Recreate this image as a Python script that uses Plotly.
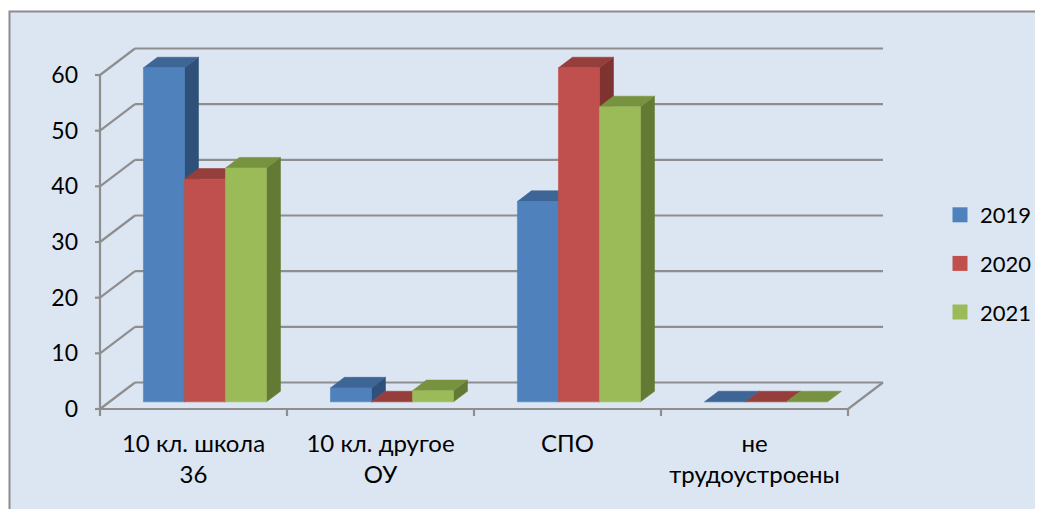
import plotly.graph_objects as go

# ---------------- data ----------------
categories = ["10 кл. школа<br>36", "10 кл. другое<br>ОУ", "СПО", "не<br>трудоустроены"]
series_names = ["2019", "2020", "2021"]
values_2019 = [60, 2.5, 36, 0]
values_2020 = [40, 0, 60, 0]
values_2021 = [42, 2, 53, 0]
y_ticks = [0, 10, 20, 30, 40, 50, 60]

# ---------------- style ----------------
front_colors = ["#4f81bd", "#c0504d", "#9bbb59"]
top_colors = ["#3d6596", "#953e3c", "#779340"]
side_colors = ["#2f5079", "#7e3331", "#627a33"]
grid_color = "#8e8e8e"
bg_color = "#dce6f2"
FONT = "Lato"

# projection constants (px per unit along the front plane)
PXC = 187.0            # px per category
PXV = 334.0 / 60.0     # px per value unit
DX = 35.0 / PXC        # full depth offset, x
DY = 26.5 / PXV        # full depth offset, y
F0, F1 = 0.27, 0.67    # bar front / back depth fractions
BAR_W = 41.0 / PXC
SHIFT = 2.0 / PXC

# page offset of the figure inside the html body (default body margin)
OFF = 8
W, H = 1043 - OFF, 509 - OFF
# plot area in page px, converted to figure px
L, R, T, B = 93 - OFF, 895 - OFF, 40 - OFF, 419 - OFF
ZERO_PX = 409 - OFF
AXIS_PX = 100 - OFF

xr = [(L - AXIS_PX) / PXC, (R - AXIS_PX) / PXC]
yr = [(ZERO_PX - B) / PXV, (ZERO_PX - T) / PXV]

series_values = [values_2019, values_2020, values_2021]
ncat = len(categories)
vmax = y_ticks[-1]

fig = go.Figure()


def line(xs, ys, width=2.2):
    fig.add_trace(go.Scatter(x=xs, y=ys, mode="lines", showlegend=False, hoverinfo="skip",
                             line=dict(color=grid_color, width=width)))


def poly(xs, ys, color):
    fig.add_trace(go.Scatter(x=xs + [xs[0]], y=ys + [ys[0]], mode="lines", fill="toself",
                             fillcolor=color, line=dict(color=color, width=0.6),
                             showlegend=False, hoverinfo="skip"))


# back wall gridlines and left-wall diagonals
for v in y_ticks:
    line([DX, ncat + DX], [v + DY, v + DY])
    line([0, DX], [v, v + DY])
# floor
line([0, ncat], [0, 0])
line([ncat, ncat + DX], [0, DY])
# front value axis
line([0, 0], [0, vmax])
# value ticks
for v in y_ticks:
    line([-5.0 / PXC, 0], [v, v])
# category ticks
for c in range(ncat + 1):
    line([c, c], [0, -7.0 / PXV])

# bars
ox0, oy0 = F0 * DX, F0 * DY
ox1, oy1 = F1 * DX, F1 * DY
for c in range(ncat):
    for s, vals in enumerate(series_values):
        v = vals[c]
        left = c + 0.5 - 1.5 * BAR_W + s * BAR_W + SHIFT
        right = left + BAR_W
        if v > 0:
            poly([right + ox0, right + ox1, right + ox1, right + ox0],
                 [oy0, oy1, v + oy1, v + oy0], side_colors[s])
        poly([left + ox0, right + ox0, right + ox1, left + ox1],
             [v + oy0, v + oy0, v + oy1, v + oy1], top_colors[s])
        if v > 0:
            poly([left + ox0, right + ox0, right + ox0, left + ox0],
                 [oy0, oy0, v + oy0, v + oy0], front_colors[s])

# legend entries
for s, name in enumerate(series_names):
    fig.add_trace(go.Scatter(x=[None], y=[None], mode="markers", name=name,
                             legendgroup=name,
                             marker=dict(symbol="square", size=15, color=front_colors[s])))


def px_to_paper_x(px):
    return (px - L) / (R - L)


def px_to_paper_y(py):
    return (B - py) / (B - T)


fig.add_shape(type="rect", xref="paper", yref="paper", layer="below",
              x0=px_to_paper_x(9.5 - OFF), x1=px_to_paper_x(W + 5),
              y0=px_to_paper_y(H + 5), y1=px_to_paper_y(11.5 - OFF),
              fillcolor=bg_color, line=dict(color="#8c8c8c", width=2))

fig.update_layout(
    width=W, height=H,
    margin=dict(l=L, r=W - R, t=T, b=H - B, pad=0, autoexpand=False),
    paper_bgcolor="white",
    plot_bgcolor=bg_color,
    font=dict(family=FONT, size=22, color="black"),
    showlegend=True,
    legend=dict(xref="container", yref="container",
                x=(940 - OFF) / W, y=1 - (194 - OFF) / H, xanchor="left", yanchor="top",
                bgcolor="rgba(0,0,0,0)", font=dict(size=22, family=FONT),
                tracegroupgap=17, itemwidth=30),
    xaxis=dict(range=xr, showgrid=False, zeroline=False, showline=False, automargin=False,
               tickmode="array", tickvals=[c + 0.5 for c in range(ncat)],
               ticktext=categories, ticks="", ticklabelstandoff=8,
               tickfont=dict(size=24, family=FONT)),
    yaxis=dict(range=yr, showgrid=False, zeroline=False, showline=False, automargin=False,
               tickmode="array", tickvals=y_ticks, ticks="",
               ticklabelstandoff=14, tickfont=dict(size=23, family=FONT)),
)

fig.write_html("out.html")
